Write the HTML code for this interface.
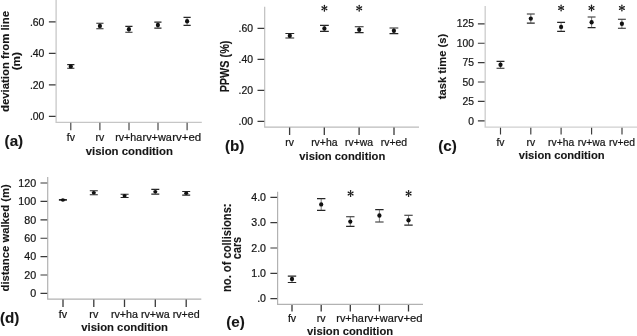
<!DOCTYPE html>
<html><head><meta charset="utf-8"><title>figure</title>
<style>
html,body{margin:0;padding:0;background:#fff;}
body{width:637px;height:336px;overflow:hidden;}
svg{display:block;filter:grayscale(1);}
text{font-family:"Liberation Sans",sans-serif;fill:#161616;stroke:#161616;stroke-width:0.22px;}
.b{font-weight:bold;stroke-width:0.12px;}
.st{font-family:"Liberation Serif",serif;}
</style></head><body>
<svg width="637" height="336" viewBox="0 0 637 336">
<rect x="0" y="0" width="637" height="336" fill="#ffffff"/>
<g id="panel-a">
<path d="M56.1 0 V122.25 H201.8" fill="none" stroke="#c6c6c6" stroke-width="1.25"/>
<path d="M48.88 21.9H55.58M48.88 53.4H55.58M48.88 84.9H55.58M48.88 116.4H55.58" fill="none" stroke="#3a3a3a" stroke-width="1.15"/>
<path d="M70.8 122.78V130.18M99.9 122.78V130.18M129 122.78V130.18M158 122.78V130.18M187.1 122.78V130.18" fill="none" stroke="#3a3a3a" stroke-width="1.1"/>
<text x="44.4" y="25.64" font-size="10.45" text-anchor="end">.60</text>
<text x="44.4" y="57.14" font-size="10.45" text-anchor="end">.40</text>
<text x="44.4" y="88.64" font-size="10.45" text-anchor="end">.20</text>
<text x="44.4" y="120.14" font-size="10.45" text-anchor="end">.00</text>
<text x="70.8" y="141.3" font-size="10.45" text-anchor="middle">fv</text>
<text x="99.9" y="141.3" font-size="10.45" text-anchor="middle">rv</text>
<text x="115.21" y="141.3" font-size="10.45" textLength="26.99" lengthAdjust="spacingAndGlyphs">rv+ha</text>
<text x="142.51" y="141.3" font-size="10.45" textLength="29.39" lengthAdjust="spacingAndGlyphs">rv+wa</text>
<text x="172.21" y="141.3" font-size="10.45" textLength="28.96" lengthAdjust="spacingAndGlyphs">rv+ed</text>
<path d="M67.2 64.6H74.4M67.2 68.2H74.4" stroke="#262626" stroke-width="1.1" fill="none"/>
<path d="M70.8 64.6V68.2" stroke="#444" stroke-width="0.7" fill="none"/>
<ellipse cx="70.8" cy="66.4" rx="2.1" ry="2.2" fill="#111"/>
<path d="M96.3 23.2H103.5M96.3 28.7H103.5" stroke="#262626" stroke-width="1.1" fill="none"/>
<path d="M99.9 23.2V28.7" stroke="#444" stroke-width="0.7" fill="none"/>
<ellipse cx="99.9" cy="25.9" rx="2.1" ry="2.2" fill="#111"/>
<path d="M125.3 26.4H132.5M125.3 32.2H132.5" stroke="#262626" stroke-width="1.1" fill="none"/>
<path d="M128.9 26.4V32.2" stroke="#444" stroke-width="0.7" fill="none"/>
<ellipse cx="128.9" cy="29.3" rx="2.1" ry="2.2" fill="#111"/>
<path d="M154.3 22.1H161.5M154.3 28.1H161.5" stroke="#262626" stroke-width="1.1" fill="none"/>
<path d="M157.9 22.1V28.1" stroke="#444" stroke-width="0.7" fill="none"/>
<ellipse cx="157.9" cy="25" rx="2.1" ry="2.2" fill="#111"/>
<path d="M183.5 17.4H190.7M183.5 25.4H190.7" stroke="#262626" stroke-width="1.1" fill="none"/>
<path d="M187.1 17.4V25.4" stroke="#444" stroke-width="0.7" fill="none"/>
<ellipse cx="187.1" cy="21.3" rx="2.1" ry="2.2" fill="#111"/>
<text class="b" x="4.6" y="146.4" font-size="15.2">(a)</text>
<text class="b" x="85.7" y="154.85" font-size="11.3" textLength="87.2" lengthAdjust="spacingAndGlyphs">vision condition</text>
<text class="b" transform="translate(8.9 61.5) rotate(-90)" font-size="11.3" text-anchor="middle" textLength="101" lengthAdjust="spacingAndGlyphs">deviation from line</text>
<text class="b" transform="translate(20 61.2) rotate(-90)" font-size="11.3" text-anchor="middle" textLength="18.2" lengthAdjust="spacingAndGlyphs">(m)</text>
</g>
<g id="panel-b">
<path d="M264.7 6.8 V127.1 H419" fill="none" stroke="#bcbcbc" stroke-width="1.15"/>
<path d="M257.52 28.3H264.23M257.52 59.3H264.23M257.52 90.3H264.23M257.52 121.4H264.23" fill="none" stroke="#3a3a3a" stroke-width="1.15"/>
<path d="M289.6 127.58V134.98M324.3 127.58V134.98M359.1 127.58V134.98M394 127.58V134.98" fill="none" stroke="#3a3a3a" stroke-width="1.3"/>
<text x="253" y="32.02" font-size="10.4" text-anchor="end">.60</text>
<text x="253" y="63.02" font-size="10.4" text-anchor="end">.40</text>
<text x="253" y="94.02" font-size="10.4" text-anchor="end">.20</text>
<text x="253" y="125.12" font-size="10.4" text-anchor="end">.00</text>
<text x="289.6" y="145.5" font-size="10.4" text-anchor="middle">rv</text>
<text x="324.3" y="145.5" font-size="10.4" text-anchor="middle">rv+ha</text>
<text x="359.1" y="145.5" font-size="10.4" text-anchor="middle">rv+wa</text>
<text x="394" y="145.5" font-size="10.4" text-anchor="middle">rv+ed</text>
<path d="M285.4 33.5H294.2M285.4 38H294.2" stroke="#262626" stroke-width="1.1" fill="none"/>
<path d="M289.8 33.5V38" stroke="#444" stroke-width="0.7" fill="none"/>
<ellipse cx="289.8" cy="35.8" rx="2.1" ry="2.2" fill="#111"/>
<path d="M320 25.4H328.8M320 31.4H328.8" stroke="#262626" stroke-width="1.1" fill="none"/>
<path d="M324.4 25.4V31.4" stroke="#444" stroke-width="0.7" fill="none"/>
<ellipse cx="324.4" cy="28.5" rx="2.1" ry="2.2" fill="#111"/>
<path d="M354.8 26.8H363.6M354.8 32.6H363.6" stroke="#262626" stroke-width="1.1" fill="none"/>
<path d="M359.2 26.8V32.6" stroke="#444" stroke-width="0.7" fill="none"/>
<ellipse cx="359.2" cy="29.7" rx="2.1" ry="2.2" fill="#111"/>
<path d="M389.5 28H398.3M389.5 33.6H398.3" stroke="#262626" stroke-width="1.1" fill="none"/>
<path d="M393.9 28V33.6" stroke="#444" stroke-width="0.7" fill="none"/>
<ellipse cx="393.9" cy="30.8" rx="2.1" ry="2.2" fill="#111"/>
<g fill="#1a1a1a" transform="translate(324.4 8.25)"><path d="M-0.25 0L-0.62 -2.2A0.76 0.76 0 1 1 0.62 -2.2L0.25 0Z" transform="rotate(0)"/><path d="M-0.25 0L-0.62 -2.2A0.76 0.76 0 1 1 0.62 -2.2L0.25 0Z" transform="rotate(60)"/><path d="M-0.25 0L-0.62 -2.2A0.76 0.76 0 1 1 0.62 -2.2L0.25 0Z" transform="rotate(120)"/><path d="M-0.25 0L-0.62 -2.2A0.76 0.76 0 1 1 0.62 -2.2L0.25 0Z" transform="rotate(180)"/><path d="M-0.25 0L-0.62 -2.2A0.76 0.76 0 1 1 0.62 -2.2L0.25 0Z" transform="rotate(240)"/><path d="M-0.25 0L-0.62 -2.2A0.76 0.76 0 1 1 0.62 -2.2L0.25 0Z" transform="rotate(300)"/><circle r="0.7"/></g>
<g fill="#1a1a1a" transform="translate(359.2 8.25)"><path d="M-0.25 0L-0.62 -2.2A0.76 0.76 0 1 1 0.62 -2.2L0.25 0Z" transform="rotate(0)"/><path d="M-0.25 0L-0.62 -2.2A0.76 0.76 0 1 1 0.62 -2.2L0.25 0Z" transform="rotate(60)"/><path d="M-0.25 0L-0.62 -2.2A0.76 0.76 0 1 1 0.62 -2.2L0.25 0Z" transform="rotate(120)"/><path d="M-0.25 0L-0.62 -2.2A0.76 0.76 0 1 1 0.62 -2.2L0.25 0Z" transform="rotate(180)"/><path d="M-0.25 0L-0.62 -2.2A0.76 0.76 0 1 1 0.62 -2.2L0.25 0Z" transform="rotate(240)"/><path d="M-0.25 0L-0.62 -2.2A0.76 0.76 0 1 1 0.62 -2.2L0.25 0Z" transform="rotate(300)"/><circle r="0.7"/></g>
<text class="b" x="225" y="150.6" font-size="15.2">(b)</text>
<text class="b" x="299.3" y="159.6" font-size="11.3" textLength="86" lengthAdjust="spacingAndGlyphs">vision condition</text>
<text class="b" transform="translate(229.2 66.5) rotate(-90)" font-size="11.9" text-anchor="middle" textLength="51.7" lengthAdjust="spacingAndGlyphs">PPWS (%)</text>
</g>
<g id="panel-c">
<path d="M485.2 6 V127.1 H637" fill="none" stroke="#d0d0d0" stroke-width="1.4"/>
<path d="M477.9 23.8H484.6M477.9 43.2H484.6M477.9 62.6H484.6M477.9 82H484.6M477.9 101.4H484.6M477.9 120.9H484.6" fill="none" stroke="#3a3a3a" stroke-width="1.15"/>
<path d="M500.5 127.7V134.5M530.8 127.7V134.5M561.1 127.7V134.5M591.6 127.7V134.5M622 127.7V134.5" fill="none" stroke="#3a3a3a" stroke-width="1.15"/>
<text x="474" y="27.49" font-size="10.3" text-anchor="end">125</text>
<text x="474" y="46.89" font-size="10.3" text-anchor="end">100</text>
<text x="474" y="66.29" font-size="10.3" text-anchor="end">75</text>
<text x="474" y="85.69" font-size="10.3" text-anchor="end">50</text>
<text x="474" y="105.09" font-size="10.3" text-anchor="end">25</text>
<text x="474" y="124.59" font-size="10.3" text-anchor="end">0</text>
<text x="500.5" y="145.5" font-size="10.3" text-anchor="middle">fv</text>
<text x="530.8" y="145.5" font-size="10.3" text-anchor="middle">rv</text>
<text x="561.1" y="145.5" font-size="10.3" text-anchor="middle">rv+ha</text>
<text x="591.6" y="145.5" font-size="10.3" text-anchor="middle">rv+wa</text>
<text x="622" y="145.5" font-size="10.3" text-anchor="middle">rv+ed</text>
<path d="M496.55 61.4H504.45M496.55 68.3H504.45" stroke="#262626" stroke-width="1.1" fill="none"/>
<path d="M500.5 61.4V68.3" stroke="#444" stroke-width="0.7" fill="none"/>
<ellipse cx="500.5" cy="64.8" rx="2.1" ry="2.2" fill="#111"/>
<path d="M526.85 14H534.75M526.85 23.1H534.75" stroke="#262626" stroke-width="1.1" fill="none"/>
<path d="M530.8 14V23.1" stroke="#444" stroke-width="0.7" fill="none"/>
<ellipse cx="530.8" cy="18.6" rx="2.1" ry="2.2" fill="#111"/>
<path d="M557.15 22.4H565.05M557.15 31.4H565.05" stroke="#262626" stroke-width="1.1" fill="none"/>
<path d="M561.1 22.4V31.4" stroke="#444" stroke-width="0.7" fill="none"/>
<ellipse cx="561.1" cy="26.9" rx="2.1" ry="2.2" fill="#111"/>
<path d="M587.65 17H595.55M587.65 27.6H595.55" stroke="#262626" stroke-width="1.1" fill="none"/>
<path d="M591.6 17V27.6" stroke="#444" stroke-width="0.7" fill="none"/>
<ellipse cx="591.6" cy="22.3" rx="2.1" ry="2.2" fill="#111"/>
<path d="M617.95 19.3H625.85M617.95 28.3H625.85" stroke="#262626" stroke-width="1.1" fill="none"/>
<path d="M621.9 19.3V28.3" stroke="#444" stroke-width="0.7" fill="none"/>
<ellipse cx="621.9" cy="23.8" rx="2.1" ry="2.2" fill="#111"/>
<g fill="#1a1a1a" transform="translate(561.1 8)"><path d="M-0.25 0L-0.62 -2.2A0.76 0.76 0 1 1 0.62 -2.2L0.25 0Z" transform="rotate(0)"/><path d="M-0.25 0L-0.62 -2.2A0.76 0.76 0 1 1 0.62 -2.2L0.25 0Z" transform="rotate(60)"/><path d="M-0.25 0L-0.62 -2.2A0.76 0.76 0 1 1 0.62 -2.2L0.25 0Z" transform="rotate(120)"/><path d="M-0.25 0L-0.62 -2.2A0.76 0.76 0 1 1 0.62 -2.2L0.25 0Z" transform="rotate(180)"/><path d="M-0.25 0L-0.62 -2.2A0.76 0.76 0 1 1 0.62 -2.2L0.25 0Z" transform="rotate(240)"/><path d="M-0.25 0L-0.62 -2.2A0.76 0.76 0 1 1 0.62 -2.2L0.25 0Z" transform="rotate(300)"/><circle r="0.7"/></g>
<g fill="#1a1a1a" transform="translate(591.5 8)"><path d="M-0.25 0L-0.62 -2.2A0.76 0.76 0 1 1 0.62 -2.2L0.25 0Z" transform="rotate(0)"/><path d="M-0.25 0L-0.62 -2.2A0.76 0.76 0 1 1 0.62 -2.2L0.25 0Z" transform="rotate(60)"/><path d="M-0.25 0L-0.62 -2.2A0.76 0.76 0 1 1 0.62 -2.2L0.25 0Z" transform="rotate(120)"/><path d="M-0.25 0L-0.62 -2.2A0.76 0.76 0 1 1 0.62 -2.2L0.25 0Z" transform="rotate(180)"/><path d="M-0.25 0L-0.62 -2.2A0.76 0.76 0 1 1 0.62 -2.2L0.25 0Z" transform="rotate(240)"/><path d="M-0.25 0L-0.62 -2.2A0.76 0.76 0 1 1 0.62 -2.2L0.25 0Z" transform="rotate(300)"/><circle r="0.7"/></g>
<g fill="#1a1a1a" transform="translate(621.9 8)"><path d="M-0.25 0L-0.62 -2.2A0.76 0.76 0 1 1 0.62 -2.2L0.25 0Z" transform="rotate(0)"/><path d="M-0.25 0L-0.62 -2.2A0.76 0.76 0 1 1 0.62 -2.2L0.25 0Z" transform="rotate(60)"/><path d="M-0.25 0L-0.62 -2.2A0.76 0.76 0 1 1 0.62 -2.2L0.25 0Z" transform="rotate(120)"/><path d="M-0.25 0L-0.62 -2.2A0.76 0.76 0 1 1 0.62 -2.2L0.25 0Z" transform="rotate(180)"/><path d="M-0.25 0L-0.62 -2.2A0.76 0.76 0 1 1 0.62 -2.2L0.25 0Z" transform="rotate(240)"/><path d="M-0.25 0L-0.62 -2.2A0.76 0.76 0 1 1 0.62 -2.2L0.25 0Z" transform="rotate(300)"/><circle r="0.7"/></g>
<text class="b" x="438.2" y="150.5" font-size="15.2">(c)</text>
<text class="b" x="518.7" y="158.85" font-size="11.3" textLength="85.9" lengthAdjust="spacingAndGlyphs">vision condition</text>
<text class="b" transform="translate(446.1 66.5) rotate(-90)" font-size="11.3" text-anchor="middle" textLength="65.4" lengthAdjust="spacingAndGlyphs">task time (s)</text>
</g>
<g id="panel-d">
<path d="M47.7 177 V299.1 H201.3" fill="none" stroke="#b2b2b2" stroke-width="1.2"/>
<path d="M40.5 183H47.2M40.5 201.4H47.2M40.5 219.8H47.2M40.5 238.2H47.2M40.5 256.6H47.2M40.5 275H47.2M40.5 293.3H47.2" fill="none" stroke="#3a3a3a" stroke-width="1.15"/>
<path d="M63 299.6V307M93.8 299.6V307M124.5 299.6V307M155.3 299.6V307M186.2 299.6V307" fill="none" stroke="#3a3a3a" stroke-width="1.3"/>
<text x="36.2" y="186.83" font-size="10.7" text-anchor="end">120</text>
<text x="36.2" y="205.23" font-size="10.7" text-anchor="end">100</text>
<text x="36.2" y="223.63" font-size="10.7" text-anchor="end">80</text>
<text x="36.2" y="242.03" font-size="10.7" text-anchor="end">60</text>
<text x="36.2" y="260.43" font-size="10.7" text-anchor="end">40</text>
<text x="36.2" y="278.83" font-size="10.7" text-anchor="end">20</text>
<text x="36.2" y="297.13" font-size="10.7" text-anchor="end">0</text>
<text x="63" y="317.5" font-size="10.7" text-anchor="middle">fv</text>
<text x="93.8" y="317.5" font-size="10.7" text-anchor="middle">rv</text>
<text x="124.5" y="317.5" font-size="10.7" text-anchor="middle">rv+ha</text>
<text x="155.3" y="317.5" font-size="10.7" text-anchor="middle">rv+wa</text>
<text x="186.2" y="317.5" font-size="10.7" text-anchor="middle">rv+ed</text>
<path d="M58.9 199.55H66.9M58.9 200.25H66.9" stroke="#262626" stroke-width="1.1" fill="none"/>
<path d="M62.9 199.55V200.25" stroke="#444" stroke-width="0.7" fill="none"/>
<ellipse cx="62.9" cy="199.9" rx="2.05" ry="1.75" fill="#111"/>
<path d="M89.8 190.7H97.8M89.8 194.8H97.8" stroke="#262626" stroke-width="1.1" fill="none"/>
<path d="M93.8 190.7V194.8" stroke="#444" stroke-width="0.7" fill="none"/>
<ellipse cx="93.8" cy="192.7" rx="2.05" ry="1.75" fill="#111"/>
<path d="M120.6 194.3H128.6M120.6 197.5H128.6" stroke="#262626" stroke-width="1.1" fill="none"/>
<path d="M124.6 194.3V197.5" stroke="#444" stroke-width="0.7" fill="none"/>
<ellipse cx="124.6" cy="195.8" rx="2.05" ry="1.75" fill="#111"/>
<path d="M151.3 189.4H159.3M151.3 194.1H159.3" stroke="#262626" stroke-width="1.1" fill="none"/>
<path d="M155.3 189.4V194.1" stroke="#444" stroke-width="0.7" fill="none"/>
<ellipse cx="155.3" cy="191.8" rx="2.05" ry="1.75" fill="#111"/>
<path d="M182.2 191.5H190.2M182.2 195.1H190.2" stroke="#262626" stroke-width="1.1" fill="none"/>
<path d="M186.2 191.5V195.1" stroke="#444" stroke-width="0.7" fill="none"/>
<ellipse cx="186.2" cy="193.3" rx="2.05" ry="1.75" fill="#111"/>
<text class="b" x="0" y="322.6" font-size="15.2">(d)</text>
<text class="b" x="81.3" y="331.2" font-size="11.8" textLength="86.7" lengthAdjust="spacingAndGlyphs">vision condition</text>
<text class="b" transform="translate(9 237.9) rotate(-90)" font-size="11.8" text-anchor="middle" textLength="107.2" lengthAdjust="spacingAndGlyphs">distance walked (m)</text>
</g>
<g id="panel-e">
<path d="M277.6 191.8 V304.4 H423" fill="none" stroke="#b2b2b2" stroke-width="1.2"/>
<path d="M270.4 197.3H277.1M270.4 222.6H277.1M270.4 248H277.1M270.4 273.4H277.1M270.4 298.6H277.1" fill="none" stroke="#3a3a3a" stroke-width="1.15"/>
<path d="M292 304.9V311.5M321.2 304.9V311.5M350.3 304.9V311.5M379.4 304.9V311.5M408.5 304.9V311.5" fill="none" stroke="#3a3a3a" stroke-width="1.3"/>
<text x="266" y="201.09" font-size="10.6" text-anchor="end">4.0</text>
<text x="266" y="226.39" font-size="10.6" text-anchor="end">3.0</text>
<text x="266" y="251.79" font-size="10.6" text-anchor="end">2.0</text>
<text x="266" y="277.19" font-size="10.6" text-anchor="end">1.0</text>
<text x="266" y="302.39" font-size="10.6" text-anchor="end">.0</text>
<text x="292" y="322" font-size="10.6" text-anchor="middle">fv</text>
<text x="321.2" y="322" font-size="10.6" text-anchor="middle">rv</text>
<text x="336.3" y="322" font-size="10.6" textLength="27.5" lengthAdjust="spacingAndGlyphs">rv+ha</text>
<text x="364.2" y="322" font-size="10.6" textLength="29.55" lengthAdjust="spacingAndGlyphs">rv+wa</text>
<text x="394" y="322" font-size="10.6" textLength="28.48" lengthAdjust="spacingAndGlyphs">rv+ed</text>
<path d="M287.8 276.1H296.2M287.8 282.5H296.2" stroke="#262626" stroke-width="1.1" fill="none"/>
<path d="M292 276.1V282.5" stroke="#444" stroke-width="0.7" fill="none"/>
<ellipse cx="292" cy="279" rx="2.1" ry="2.2" fill="#111"/>
<path d="M317 198.6H325.4M317 210.4H325.4" stroke="#262626" stroke-width="1.1" fill="none"/>
<path d="M321.2 198.6V210.4" stroke="#444" stroke-width="0.7" fill="none"/>
<ellipse cx="321.2" cy="204.4" rx="2.1" ry="2.2" fill="#111"/>
<path d="M346.1 216.8H354.5M346.1 226.4H354.5" stroke="#262626" stroke-width="1.1" fill="none"/>
<path d="M350.3 216.8V226.4" stroke="#444" stroke-width="0.7" fill="none"/>
<ellipse cx="350.3" cy="221.6" rx="2.1" ry="2.2" fill="#111"/>
<path d="M375.2 209.6H383.6M375.2 222H383.6" stroke="#262626" stroke-width="1.1" fill="none"/>
<path d="M379.4 209.6V222" stroke="#444" stroke-width="0.7" fill="none"/>
<ellipse cx="379.4" cy="215.5" rx="2.1" ry="2.2" fill="#111"/>
<path d="M404.3 215.3H412.7M404.3 225.1H412.7" stroke="#262626" stroke-width="1.1" fill="none"/>
<path d="M408.5 215.3V225.1" stroke="#444" stroke-width="0.7" fill="none"/>
<ellipse cx="408.5" cy="220.3" rx="2.1" ry="2.2" fill="#111"/>
<g fill="#1a1a1a" transform="translate(350.6 193.5)"><path d="M-0.25 0L-0.62 -2.2A0.76 0.76 0 1 1 0.62 -2.2L0.25 0Z" transform="rotate(0)"/><path d="M-0.25 0L-0.62 -2.2A0.76 0.76 0 1 1 0.62 -2.2L0.25 0Z" transform="rotate(60)"/><path d="M-0.25 0L-0.62 -2.2A0.76 0.76 0 1 1 0.62 -2.2L0.25 0Z" transform="rotate(120)"/><path d="M-0.25 0L-0.62 -2.2A0.76 0.76 0 1 1 0.62 -2.2L0.25 0Z" transform="rotate(180)"/><path d="M-0.25 0L-0.62 -2.2A0.76 0.76 0 1 1 0.62 -2.2L0.25 0Z" transform="rotate(240)"/><path d="M-0.25 0L-0.62 -2.2A0.76 0.76 0 1 1 0.62 -2.2L0.25 0Z" transform="rotate(300)"/><circle r="0.7"/></g>
<g fill="#1a1a1a" transform="translate(408.6 193.5)"><path d="M-0.25 0L-0.62 -2.2A0.76 0.76 0 1 1 0.62 -2.2L0.25 0Z" transform="rotate(0)"/><path d="M-0.25 0L-0.62 -2.2A0.76 0.76 0 1 1 0.62 -2.2L0.25 0Z" transform="rotate(60)"/><path d="M-0.25 0L-0.62 -2.2A0.76 0.76 0 1 1 0.62 -2.2L0.25 0Z" transform="rotate(120)"/><path d="M-0.25 0L-0.62 -2.2A0.76 0.76 0 1 1 0.62 -2.2L0.25 0Z" transform="rotate(180)"/><path d="M-0.25 0L-0.62 -2.2A0.76 0.76 0 1 1 0.62 -2.2L0.25 0Z" transform="rotate(240)"/><path d="M-0.25 0L-0.62 -2.2A0.76 0.76 0 1 1 0.62 -2.2L0.25 0Z" transform="rotate(300)"/><circle r="0.7"/></g>
<text class="b" x="226.3" y="327.2" font-size="15.2">(e)</text>
<text class="b" x="307.1" y="335.2" font-size="11.6" textLength="86.1" lengthAdjust="spacingAndGlyphs">vision condition</text>
<text class="b" transform="translate(230.7 247.7) rotate(-90)" font-size="12.2" text-anchor="middle" textLength="88.5" lengthAdjust="spacingAndGlyphs">no. of collisions:</text>
<text class="b" transform="translate(241.4 248) rotate(-90)" font-size="12" text-anchor="middle" textLength="22.3" lengthAdjust="spacingAndGlyphs">cars</text>
</g>
</svg></body></html>
